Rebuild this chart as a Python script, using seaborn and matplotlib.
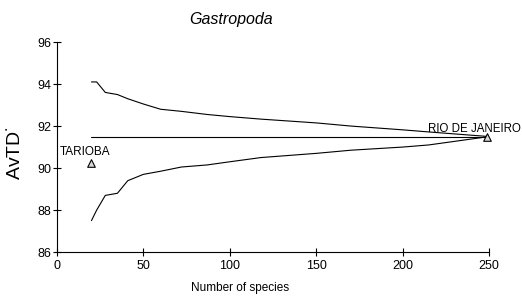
import numpy as np
import pandas as pd
import seaborn as sns
import matplotlib
matplotlib.use('Agg')
import matplotlib.pyplot as plt

# funnel (95% limits)
n_species = [20, 23, 28, 35, 41, 50, 60, 72, 87, 100, 118, 150, 170, 200, 215, 250]
upper = [94.1, 94.1, 93.6, 93.5, 93.3, 93.05, 92.8, 92.7, 92.55, 92.45, 92.33, 92.15, 92.0, 91.82, 91.72, 91.5]
lower = [87.5, 88.0, 88.7, 88.8, 89.4, 89.7, 89.85, 90.05, 90.15, 90.3, 90.5, 90.7, 90.85, 91.0, 91.1, 91.5]
mean_x = [20, 250]
mean_y = [91.5, 91.5]

sites = ['TARIOBA', 'RIO DE JANEIRO']
site_n = [20, 249]
site_avtd = [90.25, 91.5]

sns.set_theme(style='ticks')
plt.rcParams['font.family'] = ['Liberation Sans', 'DejaVu Sans']
plt.rcParams['text.color'] = 'black'
plt.rcParams['axes.labelcolor'] = 'black'

fig = plt.figure(figsize=(5.22, 2.98), dpi=100)
ax = fig.add_axes([0.109, 0.154, 0.828, 0.705])

df = pd.DataFrame({'n': n_species, 'up': upper, 'lo': lower})
sns.lineplot(data=df, x='n', y='up', color='black', lw=0.8, ax=ax)
sns.lineplot(data=df, x='n', y='lo', color='black', lw=0.8, ax=ax)
sns.lineplot(x=mean_x, y=mean_y, color='black', lw=0.8, ax=ax)

pts = pd.DataFrame({'n': site_n, 'avtd': site_avtd, 'site': sites})
sns.scatterplot(data=pts, x='n', y='avtd', marker='^', s=30, color='#d8d8d8',
                edgecolor='black', linewidth=0.8, ax=ax, zorder=5, clip_on=False)

ax.text(1.5, 90.62, 'TARIOBA', fontsize=8.5, ha='left', va='baseline')
ax.text(214.5, 91.74, 'RIO DE JANEIRO', fontsize=8.3, ha='left', va='baseline', clip_on=False)

ax.set_xlim(0, 250)
ax.set_ylim(86, 96)
ax.set_xticks([0, 50, 100, 150, 200, 250])
ax.set_yticks([86, 88, 90, 92, 94, 96])
ax.tick_params(direction='inout', length=6, width=0.8, labelsize=9, colors='black')
ax.tick_params(axis='x', pad=3)
ax.tick_params(axis='y', pad=1)
for side in ['top', 'right']:
    ax.spines[side].set_visible(False)
for side in ['left', 'bottom']:
    ax.spines[side].set_linewidth(0.8)
    ax.spines[side].set_color('black')

ax.set_xlabel('Number of species', fontsize=8.5)
ax.xaxis.set_label_coords(0.424, -0.14)
ax.set_ylabel('AvTD$^{\\cdot}$', fontsize=14)
ax.yaxis.set_label_coords(-0.075, 0.47)

fig.text(0.443, 0.935, 'Gastropoda', fontsize=11.5, style='italic', ha='center', va='center')

fig.savefig('out.png', dpi=100)
